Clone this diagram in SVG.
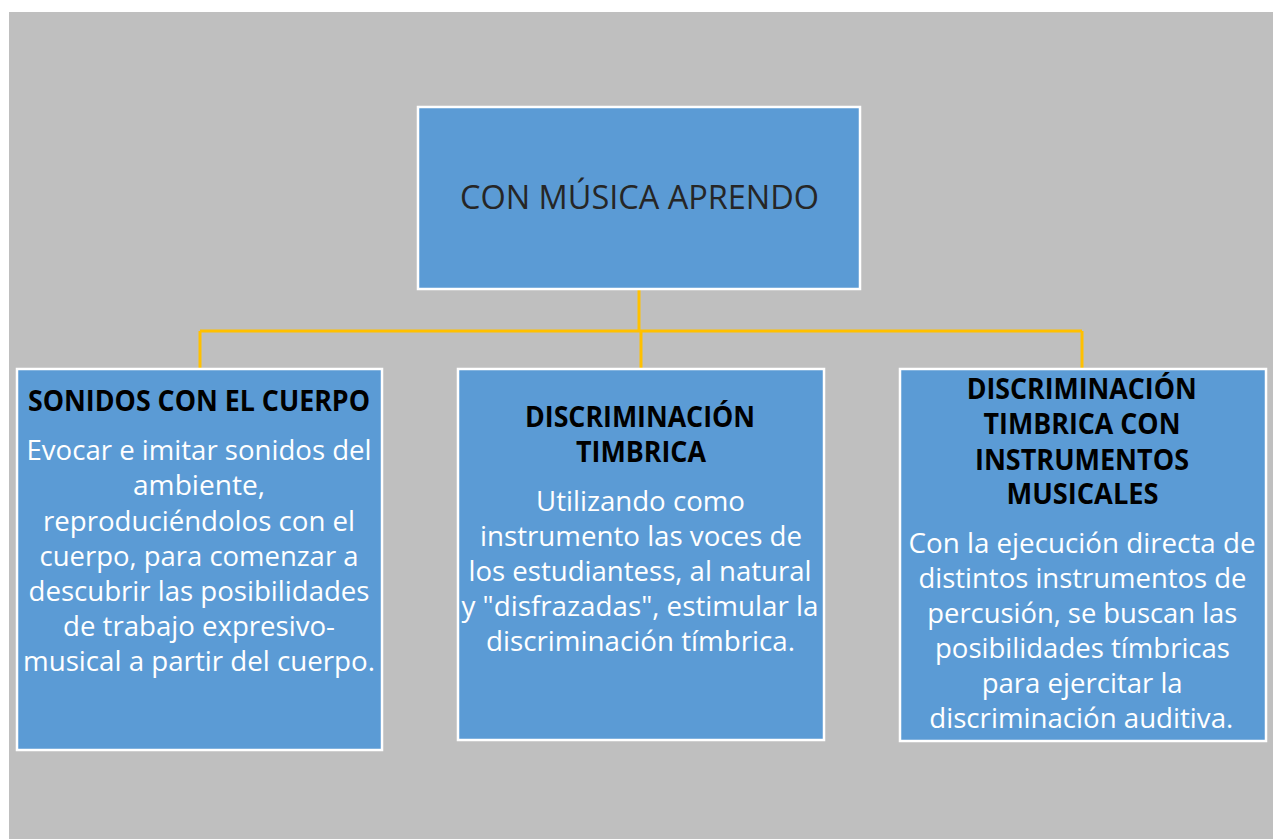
<svg xmlns="http://www.w3.org/2000/svg" width="1273" height="839" viewBox="0 0 1273 839">
<style>
.box{fill:#5B9BD5;stroke:#FFFFFF;stroke-width:2.5}
.conn{stroke:#FFC000;stroke-width:3;fill:none}
text{font-family:"Open Sans","Liberation Sans",sans-serif;text-anchor:middle}
.title{font-size:32px;fill:#262626}
.head{font-size:28px;font-weight:bold;fill:#000000}
.body{font-size:26.6px;fill:#FFFFFF}
</style>
<rect x="0" y="0" width="1273" height="839" fill="#FFFFFF"/>
<rect x="9" y="12" width="1264" height="827" fill="#BFBFBF"/>
<g id="connectors">
<path class="conn" d="M639 290 V331"/>
<path class="conn" d="M200 331 H1082"/>
<path class="conn" d="M200 331 V368"/>
<path class="conn" d="M641 331 V368"/>
<path class="conn" d="M1082 331 V368"/>
</g>
<g id="node-root">
<rect class="box" x="418" y="107" width="442" height="182"/>
<text class="title" x="639.5" y="209" textLength="359" lengthAdjust="spacingAndGlyphs">CON MÚSICA APRENDO</text>
</g>
<g id="node-sonidos">
<rect class="box" x="17" y="369" width="365" height="381"/>
<text class="head" x="199" y="411" textLength="342" lengthAdjust="spacingAndGlyphs">SONIDOS CON EL CUERPO</text>
<text class="body" x="199" y="460" textLength="345" lengthAdjust="spacingAndGlyphs">Evocar e imitar sonidos del</text>
<text class="body" x="199" y="495" textLength="132" lengthAdjust="spacingAndGlyphs">ambiente,</text>
<text class="body" x="199" y="530.5" textLength="312" lengthAdjust="spacingAndGlyphs">reproduciéndolos con el</text>
<text class="body" x="199" y="565.5" textLength="319" lengthAdjust="spacingAndGlyphs">cuerpo, para comenzar a</text>
<text class="body" x="199" y="600.5" textLength="341" lengthAdjust="spacingAndGlyphs">descubrir las posibilidades</text>
<text class="body" x="199" y="635.5" textLength="272" lengthAdjust="spacingAndGlyphs">de trabajo expresivo-</text>
<text class="body" x="199" y="670.5" textLength="352" lengthAdjust="spacingAndGlyphs">musical a partir del cuerpo.</text>
</g>
<g id="node-discriminacion">
<rect class="box" x="458" y="369" width="366" height="371"/>
<text class="head" x="640" y="426.5" textLength="230" lengthAdjust="spacingAndGlyphs">DISCRIMINACIÓN</text>
<text class="head" x="641" y="461.5" textLength="130" lengthAdjust="spacingAndGlyphs">TIMBRICA</text>
<text class="body" x="640.5" y="511" textLength="209" lengthAdjust="spacingAndGlyphs">Utilizando como</text>
<text class="body" x="641" y="545.5" textLength="322" lengthAdjust="spacingAndGlyphs">instrumento las voces de</text>
<text class="body" x="640" y="580.5" textLength="343" lengthAdjust="spacingAndGlyphs">los estudiantess, al natural</text>
<text class="body" x="640" y="615.5" textLength="357" lengthAdjust="spacingAndGlyphs">y "disfrazadas", estimular la</text>
<text class="body" x="640.5" y="651" textLength="309" lengthAdjust="spacingAndGlyphs">discriminación tímbrica.</text>
</g>
<g id="node-instrumentos">
<rect class="box" x="900" y="369" width="366" height="372"/>
<text class="head" x="1081.7" y="399.3" textLength="230" lengthAdjust="spacingAndGlyphs">DISCRIMINACIÓN</text>
<text class="head" x="1082" y="434" textLength="197" lengthAdjust="spacingAndGlyphs">TIMBRICA CON</text>
<text class="head" x="1082" y="470" textLength="214" lengthAdjust="spacingAndGlyphs">INSTRUMENTOS</text>
<text class="head" x="1082.5" y="504.3" textLength="152" lengthAdjust="spacingAndGlyphs">MUSICALES</text>
<text class="body" x="1082" y="552.7" textLength="347" lengthAdjust="spacingAndGlyphs">Con la ejecución directa de</text>
<text class="body" x="1082.5" y="588.3" textLength="328" lengthAdjust="spacingAndGlyphs">distintos instrumentos de</text>
<text class="body" x="1082.3" y="623.3" textLength="310" lengthAdjust="spacingAndGlyphs">percusión, se buscan las</text>
<text class="body" x="1082.5" y="658.3" textLength="295" lengthAdjust="spacingAndGlyphs">posibilidades tímbricas</text>
<text class="body" x="1082.2" y="693.3" textLength="201" lengthAdjust="spacingAndGlyphs">para ejercitar la</text>
<text class="body" x="1081.3" y="727.7" textLength="304" lengthAdjust="spacingAndGlyphs">discriminación auditiva.</text>
</g>
</svg>
